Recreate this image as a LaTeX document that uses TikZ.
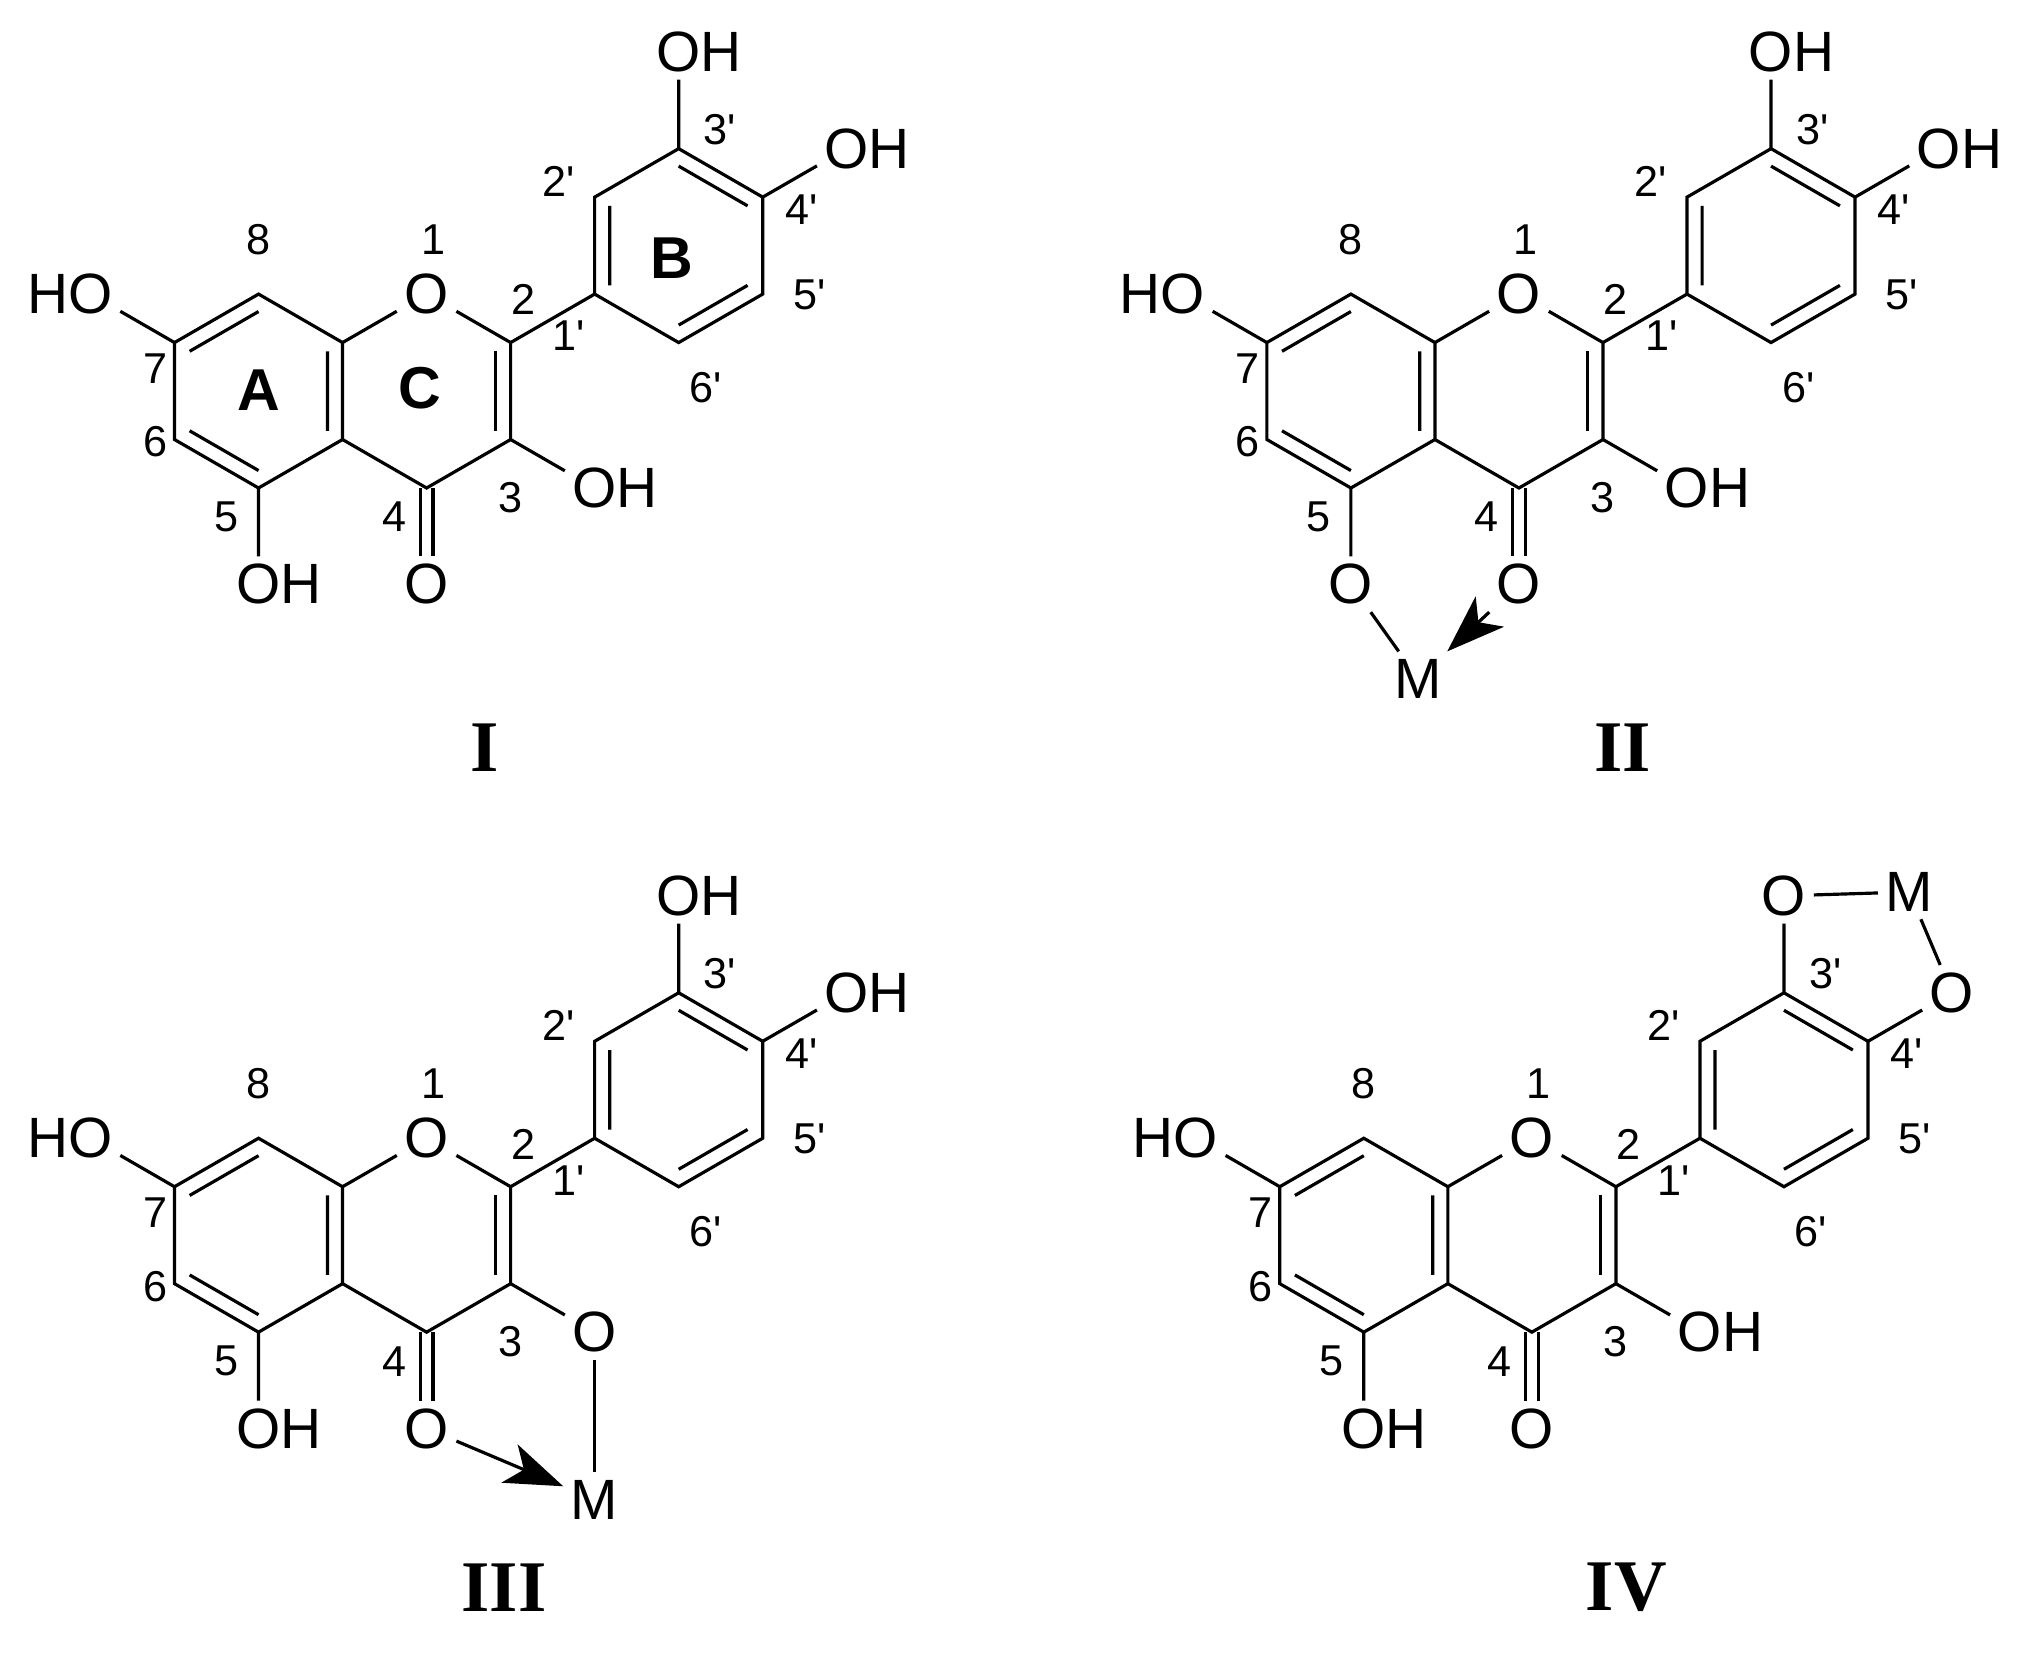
\documentclass[tikz,border=0pt]{standalone}
\usepackage{fontspec}
\newfontfamily\af{Liberation Sans}
\newfontfamily\rf{Liberation Serif}
\usetikzlibrary{calc,arrows.meta}
\tikzset{
 atom/.style={inner sep=1.5pt,font=\af\fontsize{12.5}{14}\selectfont},
 num/.style={inner sep=0pt,font=\af\fontsize{9.5}{11}\selectfont},
 ring/.style={inner sep=0pt,font=\af\bfseries\fontsize{13}{15}\selectfont},
 roman/.style={inner sep=0pt,font=\rf\bfseries\fontsize{16}{18}\selectfont},
 bd/.style={line width=0.7pt},
 dative/.style={line width=0.7pt,-{Stealth[length=0.45cm,width=0.32cm,inset=0.12cm]}}
}
\newcommand\flav[6]{%
\begin{scope}[shift={(#2,#3)}]
\coordinate (#1c4a) at (265,340);
\coordinate (#1c8a) at (265,265);
\coordinate (#1c8) at (200,227.5);
\coordinate (#1c7) at (135,265);
\coordinate (#1c6) at (135,340);
\coordinate (#1c5) at (200,377.5);
\coordinate (#1c2) at (395,265);
\coordinate (#1c3) at (395,340);
\coordinate (#1c4) at (330,377.5);
\coordinate (#1c1p) at (460,227.5);
\coordinate (#1c2p) at (460,152.5);
\coordinate (#1c3p) at (525,115);
\coordinate (#1c4p) at (590,152.5);
\coordinate (#1c5p) at (590,227.5);
\coordinate (#1c6p) at (525,265);
\coordinate (#1ca) at (200,302.5);
\coordinate (#1cc) at (330,302.5);
\coordinate (#1cb) at (525,190);
\node[atom] (#1o1) at (330,227.5) {O};
\node[atom] (#1o4) at (330,452) {O};
\node[atom] (#1o5) at (200,452) {#4};
\node[atom] (#1o3) at (460,377.5) {#5};
\node[atom] (#1o7) at (70,227.5) {\llap{H}O};
\node[atom] (#1o3p) at (525,40) {#6};
\node[atom] (#1o4p) at (655,115) {#6};
\draw[bd] (#1c7)--(#1c8)--(#1c8a)--(#1c4a)--(#1c5)--(#1c6)--cycle;
\draw[bd] ($(#1c7)!.18!(#1ca)$)--($(#1c8)!.18!(#1ca)$)
 ($(#1c5)!.18!(#1ca)$)--($(#1c6)!.18!(#1ca)$)
 ($(#1c8a)!.18!(#1ca)$)--($(#1c4a)!.18!(#1ca)$);
\draw[bd] (#1c8a)--(#1o1)--(#1c2)--(#1c3)--(#1c4)--(#1c4a);
\draw[bd] ($(#1c2)!.18!(#1cc)$)--($(#1c3)!.18!(#1cc)$);
\draw[bd] ([xshift=-0.05cm]#1c4)--([xshift=-0.05cm]#1o4.north) ([xshift=0.05cm]#1c4)--([xshift=0.05cm]#1o4.north);
\draw[bd] (#1c2)--(#1c1p);
\draw[bd] (#1c1p)--(#1c2p)--(#1c3p)--(#1c4p)--(#1c5p)--(#1c6p)--cycle;
\draw[bd] ($(#1c1p)!.18!(#1cb)$)--($(#1c2p)!.18!(#1cb)$)
 ($(#1c3p)!.18!(#1cb)$)--($(#1c4p)!.18!(#1cb)$)
 ($(#1c5p)!.18!(#1cb)$)--($(#1c6p)!.18!(#1cb)$);
\draw[bd] (#1c3p)--(#1o3p) (#1c4p)--(#1o4p) (#1c3)--(#1o3) (#1c5)--(#1o5) (#1c7)--(#1o7);
\node[num] at (200,185) {8};
\node[num] at (335,185) {1};
\node[num] at (405,232) {2};
\node[num] at (120,285) {7};
\node[num] at (120,342) {6};
\node[num] at (175,400) {5};
\node[num] at (305,400) {4};
\node[num] at (395,385) {3};
\node[num] at (440,260) {1'};
\node[num] at (432,140) {2'};
\node[num] at (557,100) {3'};
\node[num] at (620,162) {4'};
\node[num] at (626,228) {5'};
\node[num] at (546,300) {6'};
\end{scope}}
\begin{document}
\begin{tikzpicture}[x=0.01cm,y=-0.01cm]
\useasboundingbox (0,0) rectangle (1568,1279);
\flav{a}{0}{0}{O\rlap{H}}{O\rlap{H}}{O\rlap{H}}
\node[ring] at (200,302) {A};
\node[ring] at (325,300) {C};
\node[ring] at (520,200) {B};
\flav{b}{845}{0}{O}{O\rlap{H}}{O\rlap{H}}
\node[atom] (bM) at (1097,525) {M};
\draw[bd] (bo5)--(bM);
\draw[dative] (bo4)--(bM);
\flav{c}{0}{653}{O\rlap{H}}{O}{O\rlap{H}}
\node[atom] (cM) at (460,1160) {M};
\draw[bd] (co3)--(cM);
\draw[dative] (co4)--(cM);
\flav{d}{855}{653}{O\rlap{H}}{O\rlap{H}}{O}
\node[atom] (dM) at (1477,690) {M};
\draw[bd] (do3p)--(dM) (dM)--(do4p);
\node[roman] at (375,578) {I};
\node[roman] at (1255,578) {II};
\node[roman] at (390,1228) {III};
\node[roman] at (1258,1228) {IV};
\end{tikzpicture}
\end{document}
